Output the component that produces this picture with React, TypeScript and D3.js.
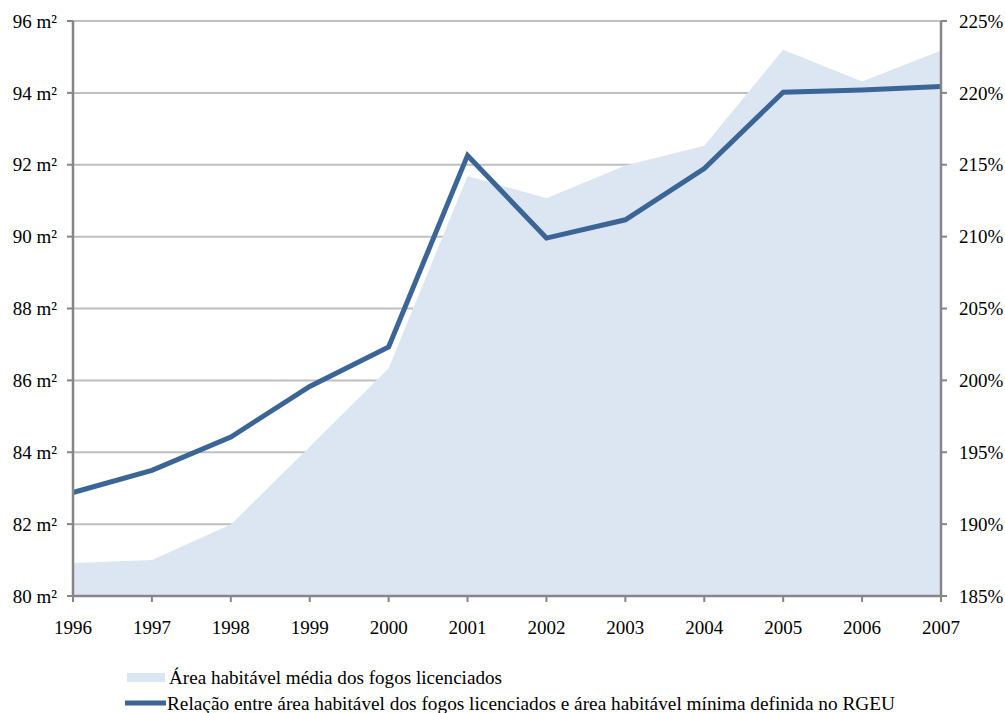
import React from "react";
import * as d3 from "d3";

const years = [1996, 1997, 1998, 1999, 2000, 2001, 2002, 2003, 2004, 2005, 2006, 2007];
// Average habitable area of licensed dwellings (m²)
const areaValues = [80.92, 81.0, 81.99, 84.15, 86.34, 91.69, 91.07, 91.98, 92.53, 95.2, 94.32, 95.18];
// Ratio between licensed habitable area and RGEU minimum (%)
const ratioValues = [192.2, 193.74, 196.06, 199.58, 202.32, 215.65, 209.9, 211.17, 214.74, 220.05, 220.2, 220.45];
const leftTicks = [80, 82, 84, 86, 88, 90, 92, 94, 96];
const rightTicks = [185, 190, 195, 200, 205, 210, 215, 220, 225];
const legendLabels = [
  "Área habitável média dos fogos licenciados",
  "Relação entre área habitável dos fogos licenciados e área habitável mínima definida no RGEU",
];

const W = 1005;
const H = 713;
const left = 73;
const right = 941;
const top = 21;
const bottom = 596;
const font = "'Times New Roman', 'Liberation Serif', Times, serif";
const axisColor = "#868686";
const textStyle = { fontFamily: font, fontSize: 19 } as const;

export default function App() {
  const x = d3.scaleLinear().domain([1996, 2007]).range([left, right]);
  const yL = d3.scaleLinear().domain([80, 96]).range([bottom, top]);
  const yR = d3.scaleLinear().domain([185, 225]).range([bottom, top]);

  const area = d3
    .area<number>()
    .x((_, i) => x(years[i]))
    .y0(yL(80))
    .y1((d) => yL(d));
  const line = d3
    .line<number>()
    .x((_, i) => x(years[i]))
    .y((d) => yR(d));

  return (
    <svg
      width={W}
      height={H}
      style={{ position: "absolute", left: 0, top: 0, background: "#fff", fontFamily: font }}
    >
      {leftTicks.map((t) => (
        <line key={t} x1={left} x2={right} y1={yL(t)} y2={yL(t)} stroke="#bfbfbf" strokeWidth={2} />
      ))}
      <path d={area(areaValues) ?? ""} fill="#dce6f2" />
      <path d={line(ratioValues) ?? ""} fill="none" stroke="#3b6596" strokeWidth={5} strokeLinejoin="miter" />

      {/* axes */}
      <line x1={left} x2={left} y1={top} y2={bottom} stroke={axisColor} strokeWidth={2.5} />
      <line x1={right} x2={right} y1={top} y2={bottom} stroke={axisColor} strokeWidth={2.5} />
      <line x1={left} x2={right} y1={bottom} y2={bottom} stroke={axisColor} strokeWidth={2.5} />

      {leftTicks.map((t) => (
        <g key={t}>
          <line x1={left - 6} x2={left} y1={yL(t)} y2={yL(t)} stroke={axisColor} strokeWidth={2} />
          <text x={left - 16} y={yL(t)} dy="0.35em" textAnchor="end" style={textStyle} fill="#000">
            {`${t} m²`}
          </text>
        </g>
      ))}
      {rightTicks.map((t) => (
        <g key={t}>
          <line x1={right} x2={right + 6} y1={yR(t)} y2={yR(t)} stroke={axisColor} strokeWidth={2} />
          <text x={right + 18} y={yR(t)} dy="0.35em" textAnchor="start" style={textStyle} fill="#000">
            {`${t}%`}
          </text>
        </g>
      ))}
      {years.map((yr) => (
        <g key={yr}>
          <line x1={x(yr)} x2={x(yr)} y1={bottom} y2={bottom + 6} stroke={axisColor} strokeWidth={2} />
          <text x={x(yr)} y={627} dy="0.35em" textAnchor="middle" style={textStyle} fill="#000">
            {yr}
          </text>
        </g>
      ))}

      {/* legend */}
      <rect x={127} y={673} width={38} height={9} fill="#dce6f2" />
      <text x={169} y={677} dy="0.35em" style={textStyle} textLength={333} lengthAdjust="spacingAndGlyphs">
        {legendLabels[0]}
      </text>
      <line x1={125} x2={166} y1={703} y2={703} stroke="#3b6596" strokeWidth={5} />
      <text x={167} y={703} dy="0.35em" style={textStyle} textLength={728} lengthAdjust="spacingAndGlyphs">
        {legendLabels[1]}
      </text>
    </svg>
  );
}
